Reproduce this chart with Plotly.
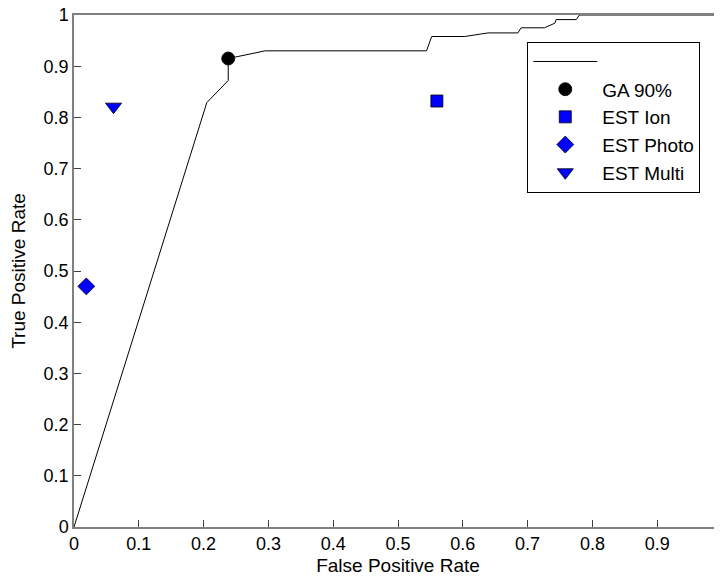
import plotly.graph_objects as go

# ROC curve
roc_fpr = [0, 0.205, 0.238, 0.238, 0.295, 0.544, 0.552, 0.603, 0.639, 0.685,
           0.690, 0.726, 0.742, 0.744, 0.775, 0.780, 1.0]
roc_tpr = [0, 0.829, 0.872, 0.915, 0.930, 0.930, 0.958, 0.958, 0.965, 0.965,
           0.975, 0.975, 0.984, 0.991, 0.991, 1.0, 1.0]

# Single-point classifiers
point_names = ["GA 90%", "EST Ion", "EST Photo", "EST Multi"]
point_fpr = [0.238, 0.560, 0.019, 0.061]
point_tpr = [0.915, 0.832, 0.470, 0.821]
point_symbols = ["circle", "square", "diamond", "triangle-down"]
point_colors = ["#000000", "#0000ff", "#0000ff", "#0000ff"]
point_sizes = [13, 12, 13, 14]

tick_vals = [0, 0.1, 0.2, 0.3, 0.4, 0.5, 0.6, 0.7, 0.8, 0.9, 1]
tick_text = ["0", "0.1", "0.2", "0.3", "0.4", "0.5", "0.6", "0.7", "0.8", "0.9", "1"]

FONT = "Liberation Sans, Arial, sans-serif"

fig = go.Figure()
fig.add_trace(go.Scatter(x=roc_fpr, y=roc_tpr, mode="lines", name=" ",
                         line=dict(color="black", width=1)))
for n, fx, ty, s, c, sz in zip(point_names, point_fpr, point_tpr, point_symbols,
                               point_colors, point_sizes):
    fig.add_trace(go.Scatter(x=[fx], y=[ty], mode="markers", name=n,
                             marker=dict(symbol=s, color=c, size=sz,
                                         line=dict(color="black", width=0.8))))

axis_common = dict(
    range=[0, 1], tickvals=tick_vals, ticktext=tick_text,
    showgrid=False, zeroline=False, showline=True, linecolor="#808080",
    linewidth=1.5, mirror=True, ticks="inside", ticklen=7, tickcolor="#404040",
    tickwidth=1, tickfont=dict(family=FONT, size=18, color="black"),
    automargin=False, ticklabeloverflow="allow",
)

fig.update_layout(
    width=722, height=580,
    margin=dict(l=66, r=8, t=7, b=61),
    paper_bgcolor="white", plot_bgcolor="white",
    font=dict(family=FONT, size=18, color="black"),
    xaxis=dict(**axis_common,
               title=dict(text="False Positive Rate",
                          font=dict(family=FONT, size=19), standoff=5)),
    yaxis=dict(**axis_common,
               title=dict(text="True Positive Rate",
                          font=dict(family=FONT, size=19), standoff=19)),
    showlegend=True,
    legend=dict(x=0.6995, y=0.948, xanchor="left", yanchor="top",
                bordercolor="black", borderwidth=1, bgcolor="white",
                font=dict(family=FONT, size=19, color="black"),
                itemwidth=64, entrywidth=139, tracegroupgap=0),
)

fig.write_html("out.html")
